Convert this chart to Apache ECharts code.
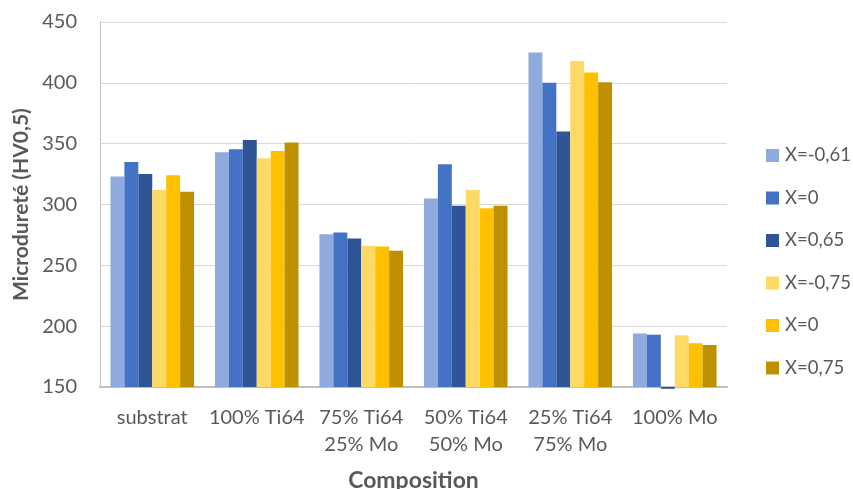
<!DOCTYPE html>
<html><head><meta charset="utf-8">
<script src="https://cdn.jsdelivr.net/npm/echarts@6/dist/echarts.min.js"></script>
<style>html,body{margin:0;padding:0;background:#fff}#c{width:853px;height:489px}</style>
</head><body><div id="c"></div>
<script>
const categories = ['substrat', '100% Ti64', '75% Ti64\n25% Mo', '50% Ti64\n50% Mo', '25% Ti64\n75% Mo', '100% Mo'];
const seriesNames = ['X=-0,61', 'X=0', 'X=0,65', 'X=-0,75', 'X=0 ', 'X=0,75'];
const s1 = [323, 343, 275.5, 305, 425, 194];
const s2 = [335, 345.5, 277, 333, 400, 193];
const s3 = [325, 353, 272, 299, 360, 148.5];
const s4 = [312, 338, 266, 312, 418, 192.5];
const s5 = [324, 344, 265.5, 297, 408.5, 186];
const s6 = [310.5, 351, 262, 299, 400.5, 184.5];
const yMin = 150, yMax = 450, yStep = 50;
const colors = ['#8FAADC', '#4472C4', '#2F5597', '#FFD966', '#FFC000', '#BF9000'];
const allData = [s1, s2, s3, s4, s5, s6];
const font = 'Lato, Liberation Sans, sans-serif';
const groupRatio = 0.8;

// bars below axis minimum (drawn downward from the axis, like the original)
const below = [];
allData.forEach((arr, si) => arr.forEach((v, ci) => { if (v < yMin) below.push([ci, v, si]); }));

const chart = echarts.init(document.getElementById('c'), null, {renderer: 'canvas'});
const series = seriesNames.map((n, i) => ({
  name: n, type: 'bar', data: allData[i],
  barGap: '0%', barCategoryGap: '20%',
  itemStyle: {color: colors[i]}
}));
series.push({
  name: seriesNames[2], type: 'custom', data: below, clip: false, z: 3,
  renderItem: function (params, api) {
    const ci = api.value(0), v = api.value(1), si = api.value(2);
    const band = api.size([1, 0])[0];
    const group = band * groupRatio;
    const bw = group / allData.length;
    const c = api.coord([ci, v]);
    const base = api.coord([ci, yMin]);
    const x = c[0] - group / 2 + si * bw;
    return {type: 'rect', shape: {x: x, y: base[1], width: bw, height: c[1] - base[1]},
            style: {fill: colors[si]}};
  }
});
chart.setOption({
  animation: false,
  backgroundColor: '#fff',
  color: colors,
  grid: {left: 100, right: 126, top: 22, bottom: 102, containLabel: false, outerBoundsMode: 'none'},
  legend: {
    orient: 'vertical', left: 761, top: 141, itemWidth: 13, itemHeight: 13, itemGap: 23.5,
    icon: 'rect',
    formatter: n => n.trim(),
    textStyle: {fontFamily: font, fontSize: 18.5, color: '#595959', padding: [0, 0, 0, 1]},
    data: seriesNames
  },
  xAxis: {
    type: 'category', data: categories,
    name: 'Composition', nameLocation: 'middle', nameGap: 82,
    nameTextStyle: {fontFamily: font, fontSize: 23, fontWeight: 'bold', color: '#595959'},
    axisLine: {lineStyle: {color: '#BFBFBF', width: 2}},
    axisTick: {show: false},
    axisLabel: {fontFamily: font, fontSize: 20, color: '#595959', lineHeight: 27, margin: 17, interval: 0}
  },
  yAxis: {
    type: 'value', min: yMin, max: yMax, interval: yStep,
    name: 'Microdureté (HV0,5)', nameLocation: 'middle', nameGap: 67,
    nameTextStyle: {fontFamily: font, fontSize: 21, fontWeight: 'bold', color: '#595959'},
    axisLine: {show: true, lineStyle: {color: '#BFBFBF', width: 1}},
    axisTick: {show: false},
    splitLine: {lineStyle: {color: '#D9D9D9', width: 1}},
    axisLabel: {fontFamily: font, fontSize: 20, color: '#595959', margin: 23}
  },
  series: series
});
</script></body></html>
